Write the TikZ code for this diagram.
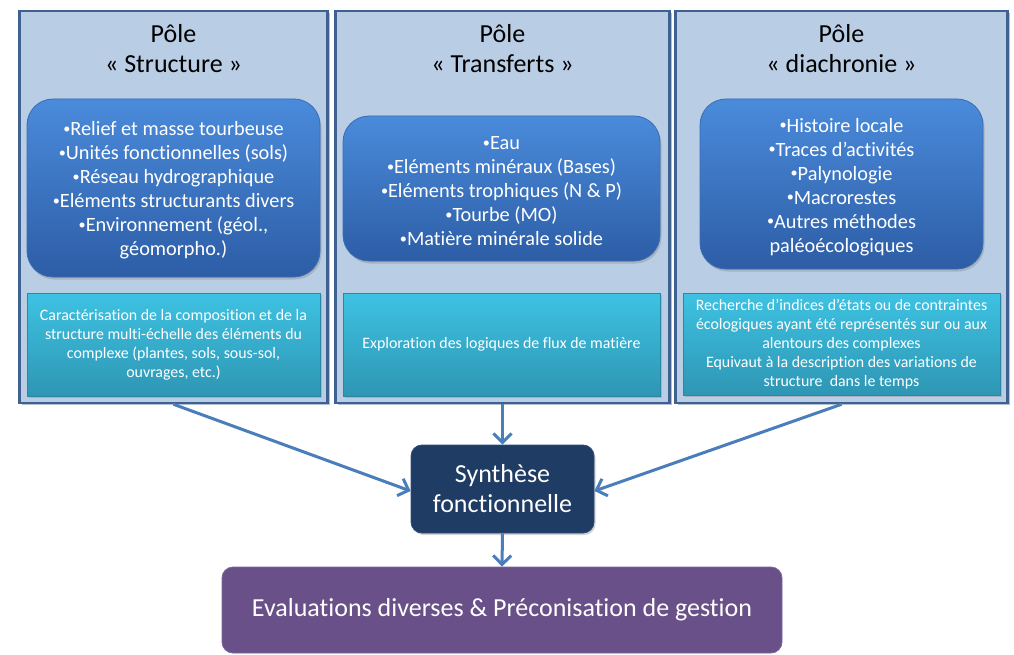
\documentclass[tikz,border=0pt]{standalone}
\usepackage{fontspec}
\setmainfont{Carlito}[Ligatures=NoCommon]
\usetikzlibrary{arrows.meta,shadows}
\newcommand{\mybul}{\raisebox{0.12em}{\scalebox{0.7}{•}}}
\definecolor{panelfill}{HTML}{B9CDE5}
\definecolor{panelline}{HTML}{3F6190}
\definecolor{panelshadow}{HTML}{9FB0C8}
\definecolor{bluetop}{HTML}{4A8BDB}
\definecolor{bluebot}{HTML}{2D5DA6}
\definecolor{blueline}{HTML}{3B6BB2}
\definecolor{cyantop}{HTML}{3EC2E2}
\definecolor{cyanbot}{HTML}{2E96B4}
\definecolor{cyanline}{HTML}{2B87A2}
\definecolor{navy}{HTML}{1F3C64}
\definecolor{navyline}{HTML}{2E4E7A}
\definecolor{purp}{HTML}{6A5088}
\definecolor{purpline}{HTML}{7D64A0}
\definecolor{arrowc}{HTML}{4A7EBB}
\tikzset{
  panel/.style={draw=panelline, line width=2.6pt, fill=panelfill, inner sep=0pt,
    drop shadow={shadow xshift=2pt, shadow yshift=-2pt, fill=panelshadow, opacity=0.8}},
  ptitle/.style={font=\fontsize{26}{30}\selectfont, align=center, text=black},
  bluebox/.style={rounded corners=26pt, draw=blueline, line width=0.8pt,
    top color=bluetop, bottom color=bluebot, inner sep=0pt,
    drop shadow={shadow xshift=1.5pt, shadow yshift=-2.5pt, opacity=0.35}},
  bluetext/.style={text=white, align=center, font=\fontsize{20.3}{24}\selectfont, inner sep=0pt},
  cyanbox/.style={draw=cyanline, line width=0.8pt,
    top color=cyantop, bottom color=cyanbot, text=white, align=center,
    font=\fontsize{15.9}{19}\selectfont, inner sep=0pt,
    drop shadow={shadow xshift=1.5pt, shadow yshift=-2pt, opacity=0.35}},
  synbox/.style={rounded corners=11pt, fill=navy, draw=navyline, line width=0.8pt, text=white, align=center,
    font=\fontsize{26}{30}\selectfont, inner sep=0pt,
    drop shadow={shadow xshift=1.5pt, shadow yshift=-2pt, opacity=0.35}},
  evalbox/.style={rounded corners=11pt, fill=purp, draw=purpline, line width=0.8pt, text=white, align=center,
    font=\fontsize{26}{30}\selectfont, inner sep=0pt},
  conn/.style={draw=arrowc, line width=3pt, -{Straight Barb[length=9pt,width=18pt]}}
}
\begin{document}
\begin{tikzpicture}[x=1pt,y=-1pt]
\useasboundingbox (0,0) rectangle (1014,655);
% panels
\node[panel, minimum width=308pt, minimum height=392pt] (p1) at (173.5,207) {};
\node[panel, minimum width=334pt, minimum height=392pt] (p2) at (502.5,207) {};
\node[panel, minimum width=332pt, minimum height=392pt] (p3) at (841.5,207) {};
% titles
\node[ptitle] (t1) at (173.5,49) {Pôle\\« Structure »};
\node[ptitle] (t2) at (502.5,49) {Pôle\\« Transferts »};
\node[ptitle] (t3) at (841.5,49) {Pôle\\« diachronie »};
% blue boxes
\node[bluebox, minimum width=293pt, minimum height=178pt] (b1) at (173.5,188) {};
\node[bluetext] (b1t) at (173.5,190.5)
  {\mybul Relief et masse tourbeuse\\\mybul Unités fonctionnelles (sols)\\\mybul Réseau hydrographique\\\mybul Eléments structurants divers\\\mybul Environnement (géol.,\\géomorpho.)};
\node[bluebox, minimum width=317pt, minimum height=145pt] (b2) at (501.5,188.5) {};
\node[bluetext] (b2t) at (501.5,191)
  {\mybul Eau\\\mybul Eléments minéraux (Bases)\\\mybul Eléments trophiques (N \& P)\\\mybul Tourbe (MO)\\\mybul Matière minérale solide};
\node[bluebox, minimum width=283pt, minimum height=170pt] (b3) at (841.5,184) {};
\node[bluetext] (b3t) at (841.5,187)
  {\mybul Histoire locale\\\mybul Traces d’activités\\\mybul Palynologie\\\mybul Macrorestes\\\mybul Autres méthodes\\paléoécologiques};
% cyan boxes
\node[cyanbox, minimum width=293pt, minimum height=103pt] (c1) at (173.5,344.5)
  {Caractérisation de la composition et de la\\structure multi-échelle des éléments du\\complexe (plantes, sols, sous-sol,\\ouvrages, etc.)};
\node[cyanbox, minimum width=317pt, minimum height=103pt] (c2) at (501.5,344.5)
  {Exploration des logiques de flux de matière};
\node[cyanbox, minimum width=317pt, minimum height=102pt] (c3) at (841.5,344)
  {Recherche d’indices d’états ou de contraintes\\écologiques ayant été représentés sur ou aux\\alentours des complexes\\Equivaut à la description des variations de\\structure~ dans le temps};
% synthesis and evaluation
\node[synbox, minimum width=183pt, minimum height=88pt] (syn) at (502.5,489) {Synthèse\\fonctionnelle};
\node[evalbox, minimum width=560pt, minimum height=86pt] (ev) at (502,610) {Evaluations diverses \& Préconisation de gestion};
% connectors
\draw[conn] (p1.south) -- ([yshift=-2pt]syn.west);
\draw[conn] (p2.south) -- (syn.north);
\draw[conn] (p3.south) -- ([yshift=-2pt]syn.east);
\draw[conn] (syn.south) -- (ev.north);
\end{tikzpicture}
\end{document}
